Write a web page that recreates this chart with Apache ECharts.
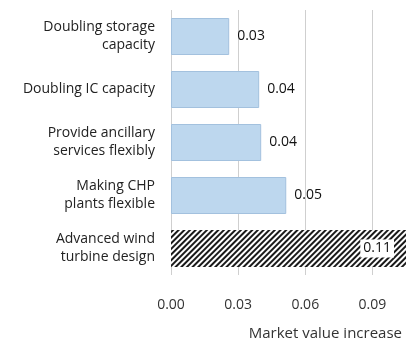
<!DOCTYPE html>
<html>
<head>
<meta charset="utf-8">
<script src="https://cdn.jsdelivr.net/npm/echarts@6/dist/echarts.min.js"></script>
<style>
  html, body { margin: 0; padding: 0; background: #fff; }
</style>
</head>
<body>
<div id="barChart" style="width: 406px; height: 350px;"></div>
<script>
  var categories = [
    'Doubling storage\ncapacity',
    'Doubling IC capacity',
    'Provide ancillary\nservices flexibly',
    'Making CHP\nplants flexible',
    'Advanced wind\nturbine design'
  ];
  var values = [0.026, 0.0394, 0.0403, 0.0515, 0.11];
  var xTicks = [0, 0.03, 0.06, 0.09];

  var chart = echarts.init(document.getElementById('barChart'));

  var seriesData = [];
  for (var i = 0; i < values.length; i++) {
    var item = { value: values[i] };
    if (i === values.length - 1) {
      // hatched bar, runs past the right edge of the picture
      item.itemStyle = {
        color: '#ffffff',
        borderWidth: 0,
        decal: {
          symbol: 'rect',
          color: '#1a1a1a',
          dashArrayX: [1, 0],
          dashArrayY: [2, 2],
          rotation: -Math.PI / 4
        }
      };
      item.label = {
        position: 'insideRight',
        distance: 12,
        backgroundColor: '#fff',
        padding: [2, 3]
      };
    }
    seriesData.push(item);
  }

  chart.setOption({
    backgroundColor: '#fff',
    textStyle: { fontFamily: 'Open Sans' },
    grid: {
      left: 171,
      right: 0,
      top: 10,
      bottom: 75
    },
    xAxis: {
      type: 'value',
      min: xTicks[0],
      max: 0.105,
      interval: 0.03,
      name: 'Market value increase',
      nameLocation: 'end',
      nameGap: 0,
      nameTextStyle: {
        fontSize: 15,
        color: '#333',
        align: 'right',
        verticalAlign: 'top',
        padding: [51, 4, 0, 0]
      },
      axisLine: { show: false },
      axisTick: { show: false },
      axisLabel: {
        margin: 23,
        fontSize: 14,
        color: '#333',
        showMaxLabel: false,
        formatter: function (v) { return v.toFixed(2); }
      },
      splitLine: {
        lineStyle: { color: '#cfcfcf', width: 1 }
      }
    },
    yAxis: {
      type: 'category',
      inverse: true,
      data: categories,
      axisLine: { show: false },
      axisTick: { show: false },
      axisLabel: {
        margin: 16,
        fontSize: 14,
        color: '#222',
        align: 'right',
        lineHeight: 18
      }
    },
    series: [{
      type: 'bar',
      barWidth: 37,
      data: seriesData,
      itemStyle: {
        color: '#bdd7ee',
        borderColor: '#a3c1de',
        borderWidth: 1
      },
      label: {
        show: true,
        position: 'right',
        distance: 8,
        fontSize: 14,
        color: '#111',
        formatter: function (p) { return p.value.toFixed(2); }
      }
    }]
  });
</script>
</body>
</html>
